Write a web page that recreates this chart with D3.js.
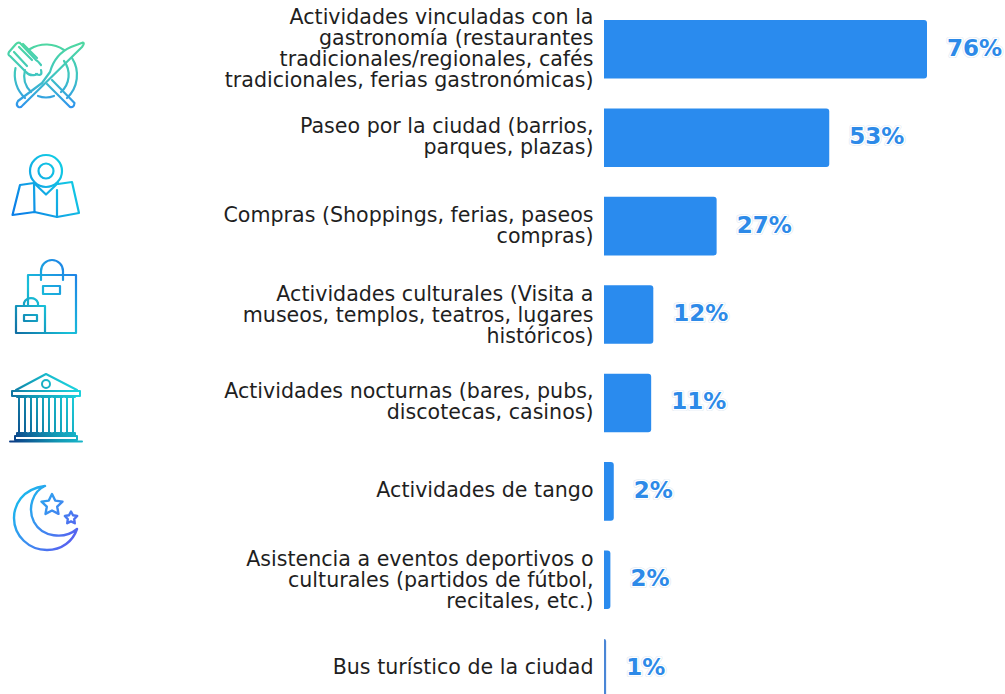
<!DOCTYPE html>
<html><head><meta charset="utf-8">
<script src="https://cdn.jsdelivr.net/npm/d3@7"></script>
<style>
html,body{margin:0;padding:0;background:#fff;overflow:hidden}
text{font-family:"DejaVu Sans",sans-serif}
</style></head><body>
<svg id="c" width="1005" height="694"></svg>
<script>
const categories = [
 ["Actividades vinculadas con la","gastronomía (restaurantes","tradicionales/regionales, cafés","tradicionales, ferias gastronómicas)"],
 ["Paseo por la ciudad (barrios,","parques, plazas)"],
 ["Compras (Shoppings, ferias, paseos","compras)"],
 ["Actividades culturales (Visita a","museos, templos, teatros, lugares","históricos)"],
 ["Actividades nocturnas (bares, pubs,","discotecas, casinos)"],
 ["Actividades de tango"],
 ["Asistencia a eventos deportivos o","culturales (partidos de fútbol,","recitales, etc.)"],
 ["Bus turístico de la ciudad"]
];
const values = [76, 53, 26.5, 11.6, 11.1, 2.3, 1.5, 0.5];
const valueLabels = ["76%","53%","27%","12%","11%","2%","2%","1%"];

const svg = d3.select("#c");
const x = d3.scaleLinear().domain([0,76]).range([604,927]);
const y = d3.scaleBand().domain(d3.range(8)).range([20,697.5]).paddingInner(0.338).paddingOuter(0);

const g = svg.append("g");
values.forEach((v,i)=>{
  const w = x(v)-x(0), h = y.bandwidth(), t = y(i), r = Math.min(3,w);
  g.append("path")
   .attr("d",`M${x(0)},${t}H${x(v)-r}Q${x(v)},${t} ${x(v)},${t+r}V${t+h-r}Q${x(v)},${t+h} ${x(v)-r},${t+h}H${x(0)}Z`)
   .attr("fill", i===7 ? "#4a86d6" : "#2a8bee");
  const cy = t+h/2;
  const lines = categories[i], lh = 21;
  const tx = g.append("text").attr("text-anchor","end").attr("font-size",20.6).attr("fill","#1f1f1f");
  lines.forEach((l,k)=>{
    tx.append("tspan").attr("x",593.5).attr("y",cy+(k-(lines.length-1)/2)*lh+6+(lines.length===3?1:0)).text(l);
  });
  [["#e3ebf3",4.2],["#fff",2.8]].forEach(([c,sw])=>{
    g.append("text").attr("x",x(v)+20).attr("y",cy+6.5)
     .attr("font-size",23).attr("font-weight","bold").attr("fill","#2d8ae8")
     .attr("stroke",c).attr("stroke-width",sw).attr("stroke-linejoin","round")
     .attr("paint-order","stroke").text(valueLabels[i]);
  });
});

/* decorative line icons */
const defs = svg.append("defs");
function grad(id,x1,y1,x2,y2,stops){
  const lg = defs.append("linearGradient").attr("id",id).attr("gradientUnits","userSpaceOnUse")
    .attr("x1",x1).attr("y1",y1).attr("x2",x2).attr("y2",y2);
  stops.forEach((c,i)=>lg.append("stop").attr("offset",i/(stops.length-1)).attr("stop-color",c));
}
grad("g1",46,42,46,108,["#4fd8a0","#3fc6c0","#2f93ee"]);
grad("g2",14,205,70,160,["#0b80e8","#12b0e4","#10d4e4"]);
grad("g3",15,335,78,280,["#0f6aa0","#18c0d8","#1e86e6"]);
grad("g4",12,440,80,400,["#0c3f86","#1298b4","#1cd0dc"]);
grad("g5",15,490,78,540,["#14c0ec","#3a90f0","#5a5cf0"]);
function icon(id,sw,paths){
  const ig = svg.append("g").attr("fill","none").attr("stroke",`url(#${id})`).attr("stroke-width",sw)
    .attr("stroke-linejoin","round").attr("stroke-linecap","round");
  paths.forEach(d=>ig.append("path").attr("d",d));
}
const circle=(cx,cy,r)=>`M${cx-r},${cy}a${r},${r} 0 1 0 ${2*r},0a${r},${r} 0 1 0 ${-2*r},0`;
const star=(cx,cy,R,r)=>d3.range(10).map(i=>{const a=-Math.PI/2+i*Math.PI/5,q=i%2?r:R;return (i?"L":"M")+(cx+q*Math.cos(a)).toFixed(1)+","+(cy+q*Math.sin(a)).toFixed(1)}).join("")+"Z";

icon("g1",2.2,[
 "M30,49A31.5,31.5 0 0 1 64,50", "M72,58A31.5,31.5 0 0 1 67,98", "M25,98A31.5,31.5 0 0 1 15.5,68",
 "M25,70A23,23 0 0 0 31,92", "M64,61A23,23 0 0 1 61,92", "M38,96A23,23 0 0 0 54,96",
 "M83,42.5L71,47Q55,54 50,72L42,83L18,101Q15.5,105 18.5,107Q21,108 23,105L82,47Q85,43 83,42.5Z",
 "M47,84L70,107Q74,108 74.5,103L52,80",
 "M20,43Q18,42 16,44L9,52Q7.5,55 10,56L26,72Q29,76 35,75L37,74M41,65Q38,61 36,60L20,43",
 "M14,52L27,66M19,47L32,60M23,44L37,58",
 "M36,74Q43,77 41,70"
]);
icon("g2",2.2,[
 circle(46,171,16), circle(46,171,7.5),
 "M34,183L46,194.5L58,183",
 "M34,183L20,185L12.5,215L34.5,212L57,217L79,213L72,182L58,184",
 "M34,183L34.5,212M57,190L57,217"
]);
icon("g3",2.2,[
 "M45,333H76V275H28V306", "M41,280V271A11,11 0 0 1 63,271V280",
 "M43,286H60V294H43Z",
 "M16,306H45V333H16Z", "M24,306V303A7.5,7.5 0 0 1 38,303V306",
 "M24,315H37V321H24Z"
]);
icon("g4",2,[
 "M16,390L46,374L77,390", "M12,391H80V396H12Z", circle(46,384,4),
 ...[18,30,42,54,66].map(c=>`M${c+1},398V433M${c+7},398V433M${c-1},433H${c+9}V435H${c-1}ZM${c-1},397H${c+9}`),
 "M15,436H77V440H15Z", "M10,441.5H82"
]);
icon("g5",2.4,[
 "M45,486C22,489 14,505 14,518C14,536 29,550 47,550C62,550 73,541 77,529C64,540 42,537 34,522C27,508 33,491 45,486Z",
 star(52,505,11,5.5), star(71,518,6.5,3.4)
]);
</script></body></html>
